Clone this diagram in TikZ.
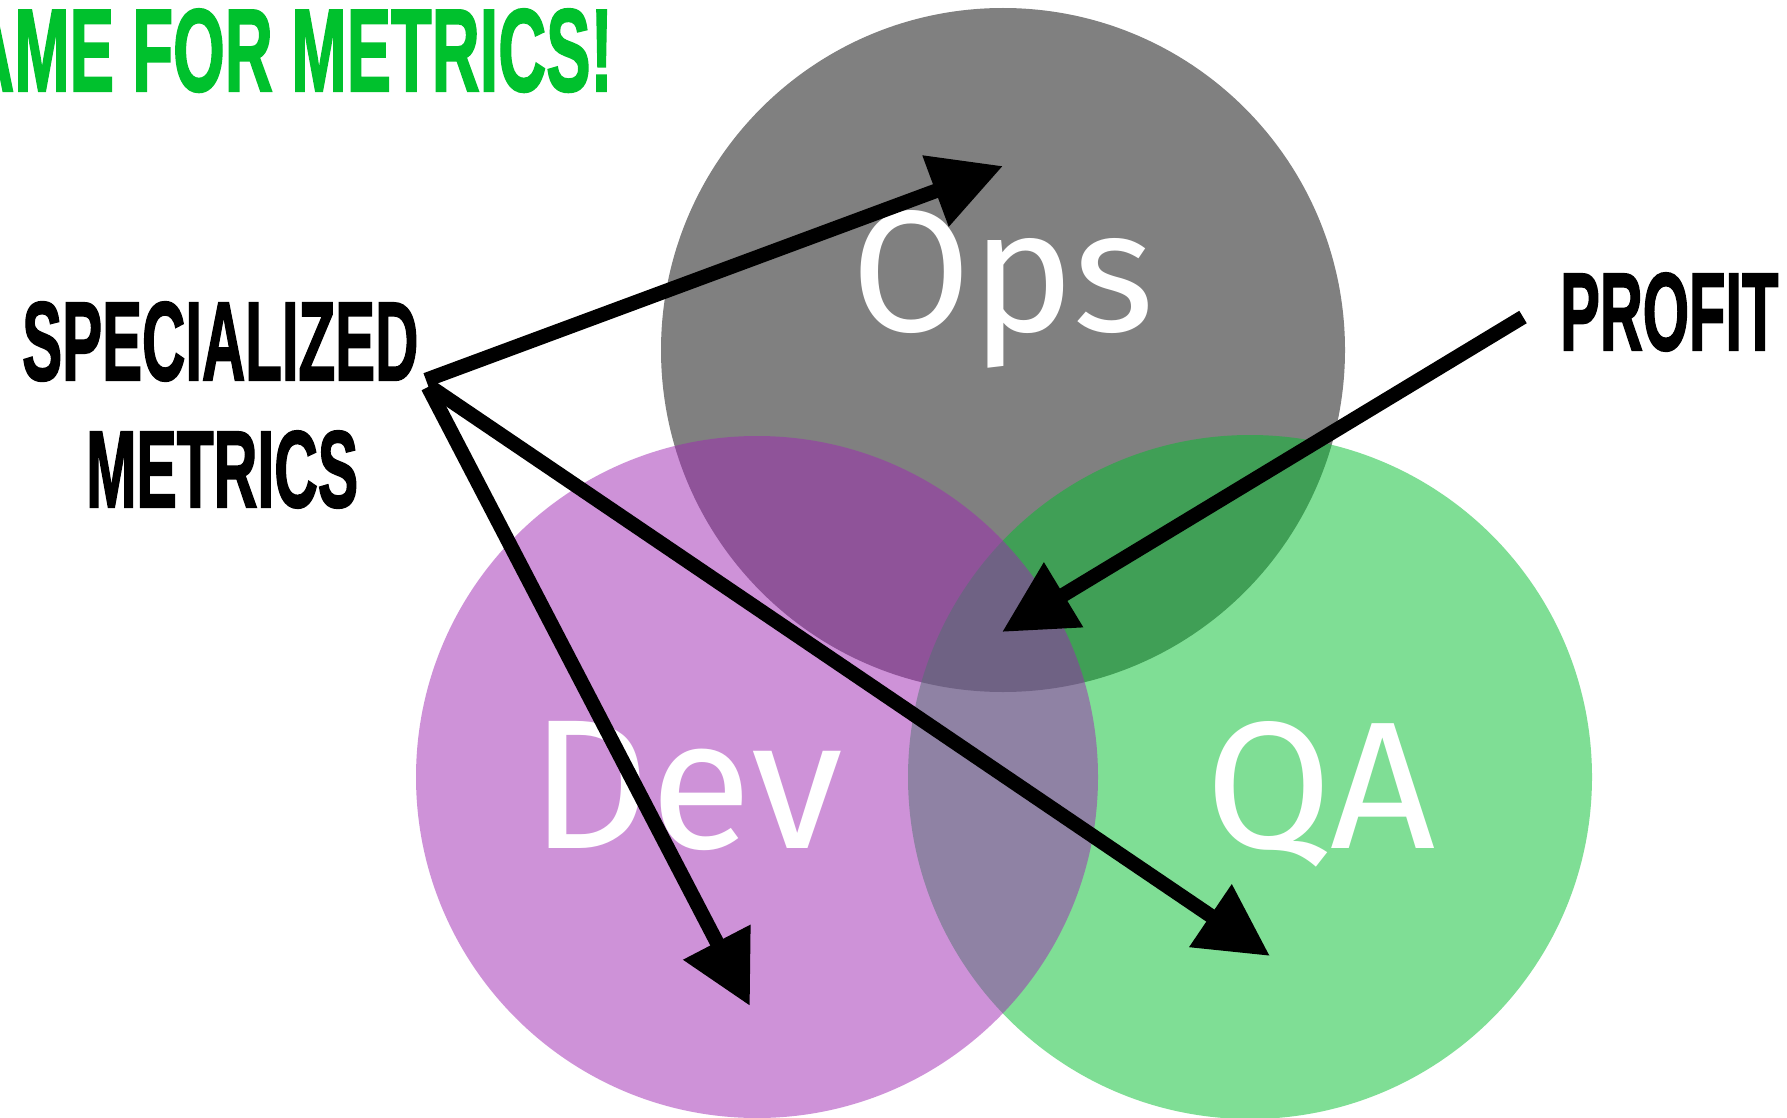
\documentclass[tikz,border=0pt]{standalone}
\usepackage{fontspec}
\usepackage{graphicx}
\usetikzlibrary{arrows.meta}
\newfontfamily\circfont{Fira Sans}
\newfontfamily\labfont{Liberation Sans}[BoldFeatures={FakeBold=2}]
\definecolor{opsgray}{RGB}{128,128,128}
\definecolor{qagreen}{RGB}{1,191,45}
\definecolor{devpurple}{RGB}{159,39,179}
\definecolor{titlegreen}{RGB}{0,193,45}
\newlength\titlewB
\newlength\titleh
\begin{document}
\settowidth\titlewB{\labfont\bfseries ME FOR METRICS!}%
\settoheight\titleh{\labfont\bfseries ME FOR METRICS!}%
\pgfmathsetmacro\tsx{598.5/\titlewB}%
\pgfmathsetmacro\tsy{82/\titleh}%
\begin{tikzpicture}[x=1pt,y=-1pt,
  circ/.style={circle, draw=none, inner sep=0pt},
  wtxt/.style={text=white, inner sep=0pt, anchor=base west, font=\circfont},
  btxt/.style={inner sep=0pt, anchor=base west, font=\labfont\bfseries},
  arr/.style={line width=14.5pt, -{Triangle[length=72pt,width=72pt]}},
]
\useasboundingbox (0,0) rectangle (1787,1118);
\fill[white] (0,0) rectangle (1787,1118);
% circles
\node[circ, fill=opsgray, minimum size=684pt] (ops) at (1003,350) {};
\node[circ, fill=qagreen, fill opacity=0.5, minimum size=684pt] (qa) at (1250,777) {};
\node[circ, fill=devpurple, fill opacity=0.5, minimum size=682pt] (dev) at (757,777) {};
% circle labels
\node[wtxt] (opst) at (851,331) {\resizebox{303pt}{121pt}{Ops}};
\node[wtxt] (devt) at (530,848) {\resizebox{312pt}{127pt}{Dev}};
\node[wtxt] (qat) at (1205,848) {\resizebox{230pt}{127pt}{QA}};
% side labels
\node[btxt] (spec) at (22,380) {\resizebox{396pt}{78pt}{SPECIALIZED}};
\node[btxt] (metr) at (86,507) {\resizebox{272pt}{76pt}{METRICS}};
\node[btxt] (prof) at (1560,350) {\resizebox{218pt}{77pt}{PROFIT}};
% title
\node[anchor=base east, inner sep=0pt, text=titlegreen] (title) at (613,91)
  {\scalebox{\tsx}[\tsy]{\labfont\bfseries AME FOR METRICS!}};
% arrows
\coordinate (s1) at (426,380);
\coordinate (s2) at (428,387);
\coordinate (s3) at (429,386);
\coordinate (s4) at (1523,317);
\coordinate (t1) at (1003,166);
\coordinate (t2) at (750,1006);
\coordinate (t3) at (1270,956);
\coordinate (t4) at (1002,632);
\draw[arr] (s1) -- (t1);
\draw[arr] (s2) -- (t2);
\draw[arr] (s3) -- (t3);
\draw[arr] (s4) -- (t4);
\end{tikzpicture}
\end{document}
